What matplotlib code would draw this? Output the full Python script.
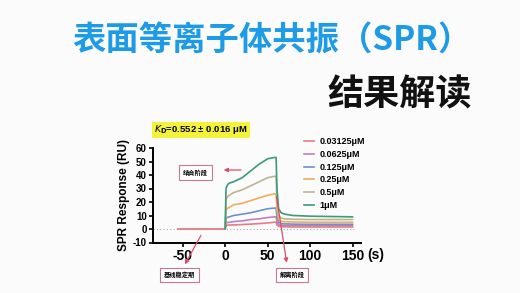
import matplotlib
matplotlib.use("Agg")
import matplotlib.pyplot as plt

plt.rcParams['font.family'] = ['Liberation Sans', 'Noto Sans CJK SC', 'DejaVu Sans']

# ---------------- data ----------------
baseline_t = [-55, -0.5]
assoc_t = [0, 1, 3, 5, 10, 20, 30, 40, 50, 58, 60]
dissoc_t = [61, 63, 66, 70, 80, 100, 150]

labels = ['0.03125μM', '0.0625μM', '0.125μM', '0.25μM', '0.5μM', '1μM']
colors = ['#e87b84', '#c57fb6', '#6d91cc', '#efae5a', '#b9b592', '#3d9a7b']

assoc_vals = [
    [0, 2.5, 2.8, 3.0, 3.0, 3.3, 3.6, 4.0, 4.5, 5.0, 5.0],
    [0, 4.5, 4.8, 5.0, 5.5, 6.0, 7.0, 7.5, 8.5, 9.0, 9.0],
    [0, 8.0, 8.7, 9.0, 10.0, 11.0, 12.0, 13.5, 15.0, 15.5, 15.5],
    [0, 14.0, 15.5, 16.0, 18.0, 19.0, 21.0, 23.0, 25.0, 26.0, 26.0],
    [0, 22.0, 24.0, 25.0, 27.0, 29.0, 32.0, 35.0, 38.0, 39.0, 39.0],
    [0, 30.0, 33.0, 34.0, 35.0, 38.0, 43.0, 48.0, 52.0, 53.0, 53.0],
]
dissoc_vals = [
    [3.0, 2.0, 1.7, 1.6, 1.5, 1.5, 1.5],
    [5.0, 3.2, 2.8, 2.6, 2.5, 2.5, 2.5],
    [9.0, 5.0, 4.0, 3.8, 3.6, 3.5, 3.5],
    [14.0, 7.0, 5.7, 5.4, 5.2, 5.0, 5.0],
    [20.0, 10.0, 8.0, 7.5, 7.2, 7.0, 7.0],
    [30.0, 15.0, 12.0, 11.0, 10.0, 9.5, 9.0],
]

xticks = [-50, 0, 50, 100, 150]
yticks = [-10, 0, 10, 20, 30, 40, 50, 60]

# ---------------- figure ----------------
W, H = 520, 293
fig = plt.figure(figsize=(W / 100, H / 100), dpi=100)
fig.patch.set_facecolor('#fbfbfb')

def fx(px):
    return px / W

def fy(py):
    return 1 - py / H

cjk = ['Noto Sans CJK SC', 'DejaVu Sans']

fig.text(fx(272), fy(41), '表面等离子体共振（SPR）', color='#1e9be6', fontsize=24,
         fontweight='bold', ha='center', va='center', family=cjk)
fig.text(fx(472), fy(95), '结果解读', color='#111111', fontsize=26,
         fontweight='bold', ha='right', va='center', family=cjk)

ax = fig.add_axes([fx(153), fy(242.5), fx(361 - 153), (242.5 - 148) / H])
ax.set_facecolor('#fbfbfb')
ax.set_xlim(-85, 160)
ax.set_ylim(-10, 60)

# zero dotted reference line
ax.plot([-85, 152], [0, 0], color='#aaaaaa', lw=0.8, ls=(0, (1, 2)), zorder=1)

# baseline
ax.plot(baseline_t, [0, 0], color='#e87b84', lw=1.3, zorder=2)

for lab, col, av, dv in zip(labels, colors, assoc_vals, dissoc_vals):
    t = assoc_t + dissoc_t
    v = av + dv
    ax.plot(t, v, color=col, lw=1.2, label=lab, zorder=3)

for s in ['top', 'right']:
    ax.spines[s].set_visible(False)
for s in ['left', 'bottom']:
    ax.spines[s].set_linewidth(1.4)

ax.set_xticks(xticks)
ax.set_xticklabels([str(v) for v in xticks], fontsize=10, fontweight='bold')
ax.set_yticks(yticks)
ax.set_yticklabels([str(v) for v in yticks], fontsize=7, fontweight='bold')
ax.tick_params(axis='both', width=1.2, length=3, pad=1.5)
fig.text(fx(367), fy(255), '(s)', fontsize=10, fontweight='bold', ha='left', va='center')
ax.set_ylabel('SPR Response (RU)', fontsize=8.5, fontweight='bold', labelpad=2)

ax.legend(loc='upper left', bbox_to_anchor=(fx(296), fy(129)),
          bbox_transform=fig.transFigure, frameon=False,
          handlelength=1.1, handletextpad=0.6, labelspacing=0.42,
          prop={'weight': 'bold', 'size': 6.5})

# KD label
fig.text(fx(201), fy(130), r'$\mathbf{\mathit{K}_D}$=0.552 ± 0.016 μM', fontsize=6.8,
         fontweight='bold', ha='center', va='center',
         bbox=dict(boxstyle='square,pad=0.2', fc='#f5f23a', ec='none'))

# annotations
box = dict(boxstyle='square,pad=0.6', fc='white', ec='#c9778c', lw=0.8)
arrow = dict(arrowstyle='-|>', color='#d9506a', lw=0.9, mutation_scale=6)

ax.text(-35, 42, '结合阶段', fontsize=4.5, ha='center', va='center', family=cjk,
        fontweight='bold', bbox=box, zorder=5)
ax.annotate('', xy=(-5, 43.7), xytext=(22, 43.7), arrowprops=arrow)

ax.text(-54, -34, '基线稳定期', fontsize=4.5, ha='center', va='center', family=cjk,
        fontweight='bold', bbox=box, clip_on=False, zorder=5)
ax.annotate('', xy=(-49, -28), xytext=(-27, -3), arrowprops=arrow,
            annotation_clip=False)

ax.text(79, -34, '解离阶段', fontsize=4.5, ha='center', va='center', family=cjk,
        fontweight='bold', bbox=box, clip_on=False, zorder=5)
ax.annotate('', xy=(73, -27), xytext=(60, 26), arrowprops=arrow,
            annotation_clip=False)

fig.savefig('out.png', dpi=100, facecolor=fig.get_facecolor())
